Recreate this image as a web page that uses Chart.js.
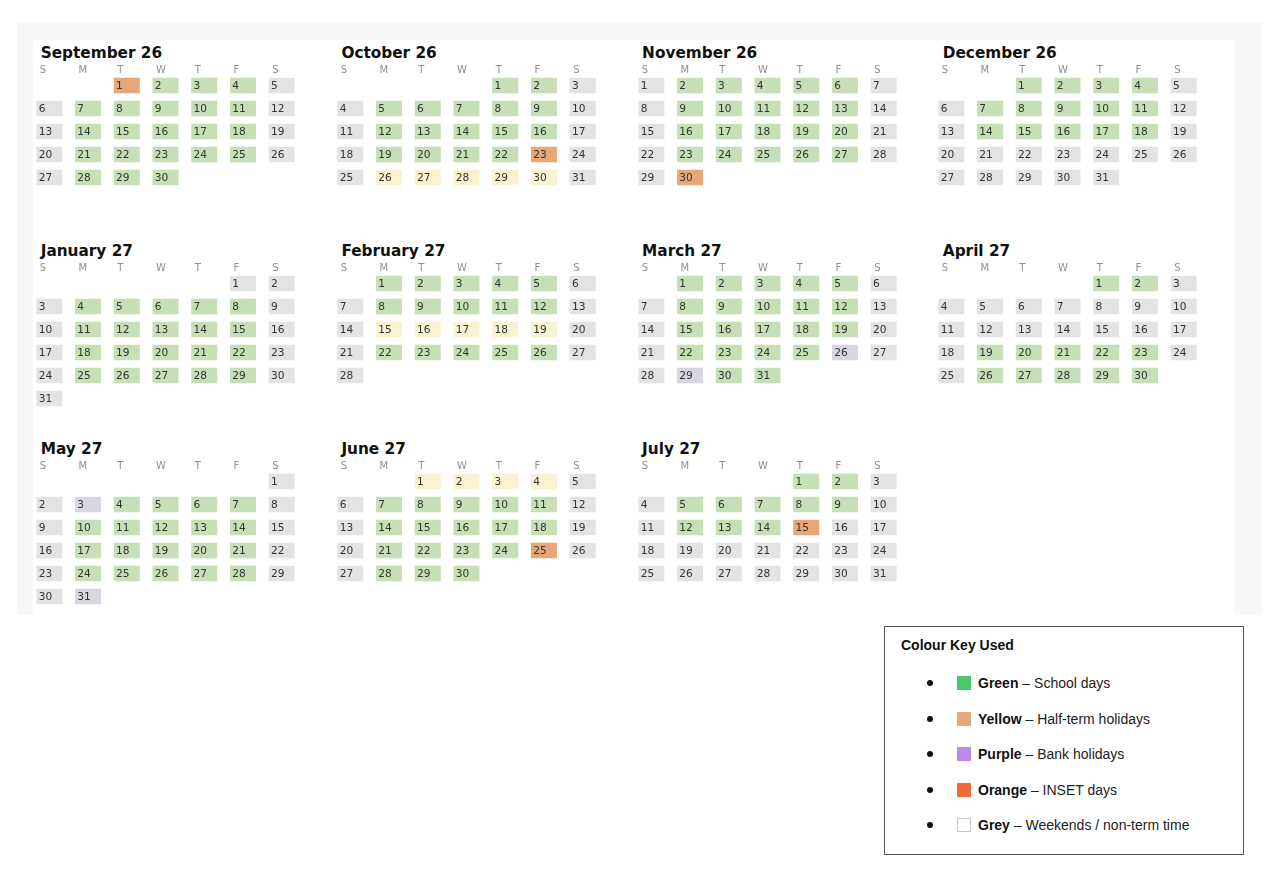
<!DOCTYPE html>
<html>
<head>
<meta charset="utf-8">
<script src="https://cdn.jsdelivr.net/npm/chart.js@4.4.1/dist/chart.umd.min.js"></script>
<style>
  body { margin: 0; background: #fff; }
  #page { position: relative; width: 1280px; height: 869px; overflow: hidden; }
  .panel { position: absolute; left: 17px; top: 22px; width: 1245px; height: 593px; background: #f8f8f8; }
  .inner { position: absolute; left: 16px; top: 18px; width: 1202px; height: 575px; background: #fff; }
  .mtitle { position: absolute; margin: 0; font: bold 15.3px "DejaVu Sans", sans-serif; line-height: 18px; color: #111; white-space: nowrap; }
  canvas { position: absolute; }
  .key { position: absolute; left: 884px; top: 626px; width: 358px; height: 227px; border: 1.5px solid #555; background: #fff; }
  .key .kt { position: absolute; left: 16px; top: 9px; font: bold 14px "Liberation Sans", Arial, sans-serif; line-height: 18px; color: #111; }
  .key .row { position: absolute; left: 0; height: 18px; font: 14px "Liberation Sans", Arial, sans-serif; line-height: 18px; color: #222; white-space: nowrap; }
  .key .dot { position: absolute; left: 42px; top: 6px; width: 6px; height: 6px; border-radius: 50%; background: #111; }
  .key .sw { position: absolute; left: 72px; top: 2px; width: 14px; height: 14px; box-sizing: border-box; }
  .key .tx { position: absolute; left: 93px; top: 0; }
  .key b { color: #111; }
</style>
</head>
<body>
<div id="page">
  <div class="panel"><div class="inner"></div></div>
</div>
<script>
// CALENDAR DATA
const monthLabels = ["September 26", "October 26", "November 26", "December 26",
  "January 27", "February 27", "March 27", "April 27", "May 27", "June 27", "July 27"];
const monthYears = [2026, 2026, 2026, 2026, 2027, 2027, 2027, 2027, 2027, 2027, 2027];
const monthIndex = [8, 9, 10, 11, 0, 1, 2, 3, 4, 5, 6];
const weekdayLabels = ["S", "M", "T", "W", "T", "F", "S"];

// one letter per day: g school day, h half-term, b bank holiday, i INSET day, w weekend / non-term
const dayStatus = [
  "igggwwgggggwwgggggwwgggggwwggg",
  "ggwwgggggwwgggggwwggggiwwhhhhhw",
  "wgggggwwgggggwwgggggwwgggggwwi",
  "ggggwwgggggwwgggggwwwwwwwwwwwww",
  "wwwgggggwwgggggwwgggggwwgggggww",
  "gggggwwgggggwwhhhhhwwgggggww",
  "gggggwwgggggwwgggggwwggggbwwbgg",
  "ggwwwwwwwwwwwwwwwwgggggwwggggg",
  "wwbggggwwgggggwwgggggwwgggggwwb",
  "hhhhwwgggggwwgggggwwggggiwwggg",
  "ggwwgggggwwgggiwwwwwwwwwwwwwwww"
];

const statusCodes = ["g", "h", "b", "i", "w"];
const cellColours = { g: "#c6dfb6", h: "#fbf2d1", b: "#d7d7e1", i: "#e8a776", w: "#e3e3e3" };

// COLOUR KEY
const keyColourNames = ["Green", "Yellow", "Purple", "Orange", "Grey"];
const keyMeanings = ["School days", "Half-term holidays", "Bank holidays", "INSET days", "Weekends / non-term time"];
const keySwatches = ["#47c86a", "#e3aa7b", "#b98ae8", "#f06a33", "#ffffff"];

// layout of the month grid
const blockLeft = [36.7, 337.4, 638.1, 938.8];
const blockTop = [78, 276, 474];
const colPitch = 38.7, rowPitch = 23, headH = 14;

const dayNumbers = {
  id: "dayNumbers",
  afterDatasetsDraw(chart) {
    const ctx = chart.ctx;
    ctx.save();
    ctx.font = '10.6px "DejaVu Sans"';
    ctx.fillStyle = "#333";
    ctx.textBaseline = "middle";
    ctx.textAlign = "left";
    chart.data.datasets.forEach((ds, i) => {
      chart.getDatasetMeta(i).data.forEach((bar, j) => {
        const p = bar.getProps(["x", "y", "base", "width"], true);
        ctx.fillText(ds.data[j].d, p.x - p.width / 2 + 2.3, (p.y + p.base) / 2 + 0.5);
      });
    });
    ctx.restore();
  }
};

const page = document.getElementById("page");

monthLabels.forEach((label, m) => {
  const left = blockLeft[m % 4];
  const top = blockTop[Math.floor(m / 4)];

  const title = document.createElement("div");
  title.className = "mtitle";
  title.textContent = label;
  title.style.left = (left + 4) + "px";
  title.style.top = (top - 34) + "px";
  page.appendChild(title);

  const canvas = document.createElement("canvas");
  canvas.width = Math.round(colPitch * 7);
  canvas.height = headH + rowPitch * 6;
  canvas.style.left = (left - (colPitch - 26) / 2) + "px";
  canvas.style.top = (top - (rowPitch - 15.5) / 2 - headH) + "px";
  page.appendChild(canvas);

  const first = new Date(monthYears[m], monthIndex[m], 1).getDay();
  const datasets = statusCodes.map(code => ({
    data: [],
    backgroundColor: cellColours[code]
  }));
  dayStatus[m].split("").forEach((s, k) => {
    const slot = first + k;
    const row = Math.floor(slot / 7);
    datasets[statusCodes.indexOf(s)].data.push({
      x: slot % 7,
      y: [row + 0.163, row + 0.837],
      d: k + 1
    });
  });

  new Chart(canvas.getContext("2d"), {
    type: "bar",
    data: { datasets },
    options: {
      responsive: false,
      animation: false,
      layout: { padding: 0 },
      datasets: { bar: { grouped: false, categoryPercentage: 1, barPercentage: 0.672, borderWidth: 0 } },
      plugins: { legend: { display: false }, tooltip: { enabled: false }, title: { display: false } },
      scales: {
        x: {
          type: "linear",
          position: "top",
          offset: false,
          min: -0.5,
          max: 6.5,
          grid: { display: false, drawTicks: false, offset: false },
          border: { display: false },
          afterBuildTicks: s => { s.ticks = weekdayLabels.map((l, i) => ({ value: i })); },
          afterFit: s => { s.height = headH; },
          ticks: {
            align: "start",
            labelOffset: -9.5,
            padding: -2,
            autoSkip: false,
            maxRotation: 0,
            color: "#909090",
            font: { family: "DejaVu Sans", size: 10 },
            callback: v => weekdayLabels[v]
          }
        },
        y: { type: "linear", reverse: true, min: 0, max: 6, display: false }
      }
    },
    plugins: [dayNumbers]
  });
});

// KEY BOX
const key = document.createElement("div");
key.className = "key";
key.innerHTML = '<div class="kt">Colour Key Used</div>';
keyColourNames.forEach((name, i) => {
  const row = document.createElement("div");
  row.className = "row";
  row.style.top = (47 + i * 35.6) + "px";
  row.innerHTML = '<span class="dot"></span><span class="sw"></span><span class="tx"><b></b> \u2013 </span>';
  const sw = row.querySelector(".sw");
  sw.style.background = keySwatches[i];
  if (name === "Grey") sw.style.border = "1px solid #c8c8c8";
  row.querySelector("b").textContent = name;
  row.querySelector(".tx").appendChild(document.createTextNode(keyMeanings[i]));
  key.appendChild(row);
});
page.appendChild(key);
</script>
</body>
</html>
